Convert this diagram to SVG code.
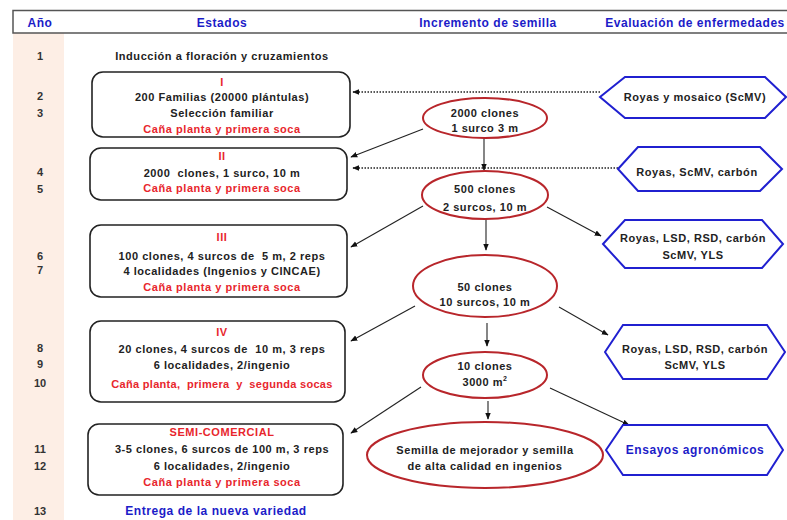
<svg xmlns="http://www.w3.org/2000/svg" width="787" height="520" viewBox="0 0 787 520">
<defs>
<marker id="ah" viewBox="0 0 10 10" refX="9" refY="5" markerWidth="7" markerHeight="7" orient="auto" markerUnits="userSpaceOnUse"><path d="M0,1 L10,5 L0,9 z" fill="#111"/></marker>
<style>
text{font-family:"Liberation Sans",Arial,sans-serif;font-weight:bold;font-size:11px;text-anchor:middle;fill:#222;letter-spacing:0.55px}
.hd{fill:#1c1cc8;font-size:12px}
.red{fill:#e8262d}
.yr{fill:#333;letter-spacing:0}
.box{fill:#fff;stroke:#222;stroke-width:1.6}
.ell{fill:#fff;stroke:#b8262b;stroke-width:2}
.hex{fill:#fff;stroke:#2020d0;stroke-width:2}
.ar{stroke:#222;stroke-width:1.1;fill:none;marker-end:url(#ah)}
.dot{stroke:#222;stroke-width:1.3;fill:none;stroke-dasharray:1.5,1.5;marker-end:url(#ah)}
</style>
</defs>
<rect width="787" height="520" fill="#fff"/>
<rect x="13" y="33" width="51" height="487" fill="#fdeee5"/>
<g id="header">
<rect x="13" y="10.5" width="780" height="22.5" fill="#fff" stroke="#555" stroke-width="1.5"/>
<text class="hd" x="40" y="27">Año</text>
<text class="hd" x="222" y="27">Estados</text>
<text class="hd" x="488" y="27">Incremento de semilla</text>
<text class="hd" x="695" y="27">Evaluación de enfermedades</text>
</g>
<g id="years">
<text class="yr" x="40" y="60">1</text>
<text class="yr" x="40" y="100">2</text>
<text class="yr" x="40" y="117">3</text>
<text class="yr" x="40" y="176">4</text>
<text class="yr" x="40" y="193">5</text>
<text class="yr" x="40" y="260">6</text>
<text class="yr" x="40" y="274">7</text>
<text class="yr" x="40" y="352">8</text>
<text class="yr" x="40" y="368">9</text>
<text class="yr" x="40" y="387">10</text>
<text class="yr" x="40" y="453">11</text>
<text class="yr" x="40" y="470">12</text>
<text class="yr" x="40" y="515">13</text>
</g>
<text x="222" y="60">Inducción a floración y cruzamientos</text>
<g id="connectors">
<line class="dot" x1="600" y1="92" x2="353" y2="92"/>
<line class="dot" x1="618" y1="168" x2="353" y2="168"/>
<line class="ar" x1="423" y1="129" x2="351" y2="157"/>
<line class="ar" x1="484" y1="138" x2="484" y2="170"/>
<line class="ar" x1="423" y1="206" x2="351" y2="247"/>
<line class="ar" x1="486" y1="219" x2="486" y2="250"/>
<line class="ar" x1="547" y1="207" x2="601" y2="236"/>
<line class="ar" x1="415" y1="306" x2="351" y2="341"/>
<line class="ar" x1="487" y1="323" x2="487" y2="346"/>
<line class="ar" x1="559" y1="307" x2="608" y2="335"/>
<line class="ar" x1="421" y1="387" x2="351" y2="433"/>
<line class="ar" x1="488" y1="401" x2="488" y2="419"/>
<line class="ar" x1="550" y1="388" x2="629" y2="425"/>
</g>
<g id="stage1">
<rect class="box" x="92" y="72" width="258" height="65" rx="11"/>
<text class="red" x="222" y="86">I</text>
<text x="222" y="101">200 Familias (20000 plántulas)</text>
<text x="222" y="117">Selección familiar</text>
<text class="red" x="222" y="133">Caña planta y primera soca</text>
</g>
<g id="stage2">
<rect class="box" x="90" y="148" width="257" height="52" rx="11"/>
<text class="red" x="222" y="160">II</text>
<text x="222" y="177" xml:space="preserve">2000  clones, 1 surco, 10 m</text>
<text class="red" x="222" y="192">Caña planta y primera soca</text>
</g>
<g id="stage3">
<rect class="box" x="90" y="225" width="257" height="72" rx="11"/>
<text class="red" x="222" y="241">III</text>
<text x="222" y="260" xml:space="preserve">100 clones, 4 surcos de  5 m, 2 reps</text>
<text x="222" y="275">4 localidades (Ingenios y CINCAE)</text>
<text class="red" x="222" y="291">Caña planta y primera soca</text>
</g>
<g id="stage4">
<rect class="box" x="90" y="321" width="255" height="81" rx="11"/>
<text class="red" x="222" y="336">IV</text>
<text x="222" y="353" xml:space="preserve">20 clones, 4 surcos de  10 m, 3 reps</text>
<text x="222" y="369">6 localidades, 2/ingenio</text>
<text class="red" x="222" y="388" style="letter-spacing:0.3px" xml:space="preserve">Caña planta,  primera  y  segunda socas</text>
</g>
<g id="stage5">
<rect class="box" x="88" y="424" width="255" height="71" rx="11"/>
<text class="red" x="222" y="436">SEMI-COMERCIAL</text>
<text x="222" y="453">3-5 clones, 6 surcos de 100 m, 3 reps</text>
<text x="222" y="470">6 localidades, 2/ingenio</text>
<text class="red" x="222" y="486">Caña planta y primera soca</text>
</g>
<text class="hd" x="216" y="515">Entrega de la nueva variedad</text>
<g id="seed1">
<ellipse class="ell" cx="485" cy="118" rx="62" ry="20"/>
<text x="485" y="117">2000 clones</text>
<text x="485" y="132">1 surco 3 m</text>
</g>
<g id="seed2">
<ellipse class="ell" cx="485" cy="195" rx="63" ry="24"/>
<text x="485" y="193">500 clones</text>
<text x="485" y="211">2 surcos, 10 m</text>
</g>
<g id="seed3">
<ellipse class="ell" cx="485" cy="286" rx="72" ry="31"/>
<text x="485" y="291">50 clones</text>
<text x="485" y="306">10 surcos, 10 m</text>
</g>
<g id="seed4">
<ellipse class="ell" cx="485" cy="375" rx="62" ry="23"/>
<text x="485" y="370">10 clones</text>
<text x="485" y="386">3000 m<tspan dy="-5" font-size="7">2</tspan></text>
</g>
<g id="seed5">
<ellipse class="ell" cx="485" cy="455" rx="118" ry="33"/>
<text x="485" y="454">Semilla de mejorador y semilla</text>
<text x="485" y="470">de alta calidad en ingenios</text>
</g>
<g id="dis1">
<polygon class="hex" points="600,97 625,77 765,77 786,97 765,118 625,118"/>
<text x="695" y="101">Royas y mosaico (ScMV)</text>
</g>
<g id="dis2">
<polygon class="hex" points="618,169 638,147 760,147 782,169 760,191 638,191"/>
<text x="697" y="176">Royas, ScMV, carbón</text>
</g>
<g id="dis3">
<polygon class="hex" points="603,244 625,220 762,220 783,244 762,268 625,268"/>
<text x="693" y="242">Royas, LSD, RSD, carbón</text>
<text x="693" y="259">ScMV, YLS</text>
</g>
<g id="dis4">
<polygon class="hex" points="605,352 623,325 767,325 785,352 767,379 623,379"/>
<text x="695" y="353">Royas, LSD, RSD, carbón</text>
<text x="695" y="369">ScMV, YLS</text>
</g>
<g id="dis5">
<polygon class="hex" points="606,450 623,425 767,425 783,450 767,475 623,475"/>
<text class="hd" x="695" y="454" font-size="13">Ensayos agronómicos</text>
</g>
</svg>
